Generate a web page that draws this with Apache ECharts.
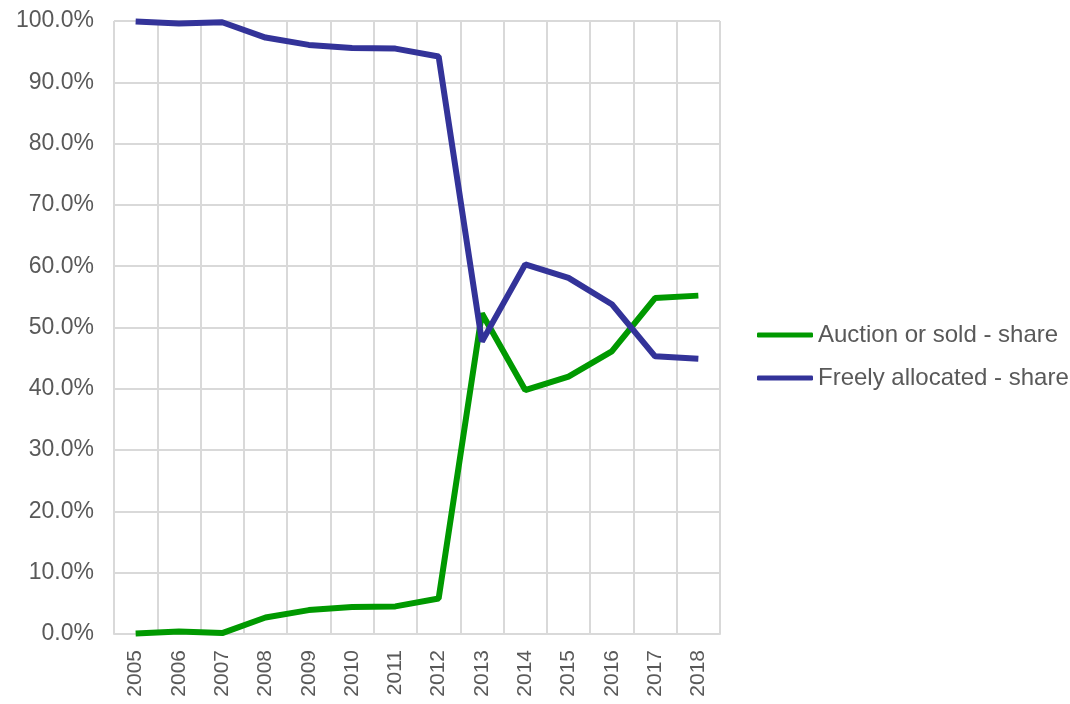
<!DOCTYPE html>
<html>
<head>
<meta charset="utf-8">
<script src="https://cdn.jsdelivr.net/npm/echarts@6/dist/echarts.min.js"></script>
<style>
	html, body { margin: 0; padding: 0; background: #fff; }
	#chart { width: 1070px; height: 704px; }
</style>
</head>
<body>
<div id="chart"></div>
<script>
const years = ['2005', '2006', '2007', '2008', '2009', '2010', '2011', '2012', '2013', '2014', '2015', '2016', '2017', '2018']
const auctionShare = [0.1, 0.4, 0.15, 2.7, 3.9, 4.4, 4.5, 5.8, 52.3, 39.8, 42.0, 46.1, 54.8, 55.2]
const freeShare = [99.9, 99.6, 99.8, 97.3, 96.1, 95.6, 95.5, 94.2, 47.7, 60.3, 58.1, 53.8, 45.3, 44.9]
const seriesNames = ['Auction or sold - share', 'Freely allocated - share']

const font = '"Liberation Sans", Arial, sans-serif'
const textColor = '#595959'
const gridColor = '#d9d9d9'

const chart = echarts.init(document.getElementById('chart'))

chart.setOption({
	animation: false,
	grid: {
		left: 114,
		right: 350,
		top: 21,
		bottom: 70
	},
	legend: {
		orient: 'vertical',
		left: 752,
		top: 318,
		itemWidth: 56,
		itemHeight: 5,
		itemGap: 19,
		icon: 'roundRect',
		textStyle: { fontFamily: font, fontSize: 24, color: textColor },
		data: seriesNames
	},
	xAxis: {
		type: 'category',
		data: years,
		boundaryGap: true,
		axisLine: { lineStyle: { color: gridColor, width: 2 } },
		axisTick: { show: false },
		splitLine: { show: true, lineStyle: { color: gridColor, width: 2 } },
		axisLabel: {
			interval: 0,
			rotate: 90,
			margin: 16,
			fontFamily: font,
			fontSize: 21,
			color: textColor
		}
	},
	yAxis: {
		type: 'value',
		min: 0,
		max: 100,
		interval: 10,
		axisLine: { show: false },
		axisTick: { show: false },
		splitLine: { lineStyle: { color: gridColor, width: 2 } },
		axisLabel: {
			margin: 20,
			fontFamily: font,
			fontSize: 23,
			color: textColor,
			formatter: v => v.toFixed(1) + '%'
		}
	},
	series: [
		{
			name: seriesNames[0],
			type: 'line',
			data: auctionShare,
			showSymbol: false,
			color: '#009900',
			lineStyle: { width: 6, color: '#009900' }
		},
		{
			name: seriesNames[1],
			type: 'line',
			data: freeShare,
			showSymbol: false,
			color: '#333399',
			lineStyle: { width: 6, color: '#333399' }
		}
	]
})
</script>
</body>
</html>
